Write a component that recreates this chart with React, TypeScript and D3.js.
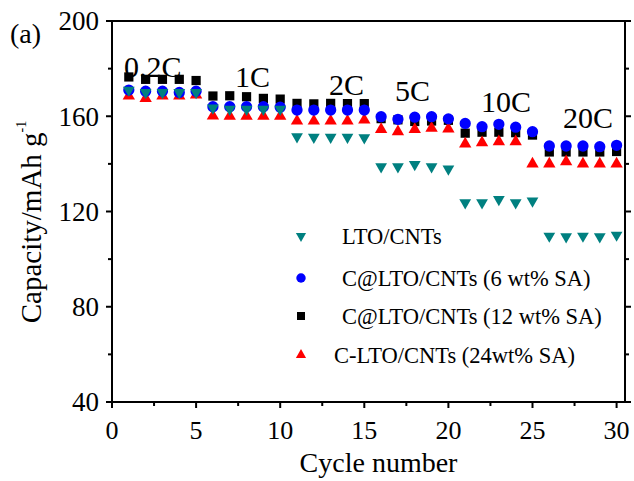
import React from "react";
import * as d3 from "d3";

// cycle numbers on the x axis
const cycles = [1, 2, 3, 4, 5, 6, 7, 8, 9, 10, 11, 12, 13, 14, 15, 16, 17, 18, 19, 20, 21, 22, 23, 24, 25, 26, 27, 28, 29, 30];

// capacities (mAh/g)
const ltoCnts = [171, 170, 170, 170, 170, 163.5, 163, 163, 163, 163, 151.4, 151.2, 151.2, 151.2, 151, 138.8, 138.8, 139.8, 138.8, 137.9, 123.7, 123.7, 125.1, 123.7, 124.4, 109.7, 109.4, 109.7, 109.4, 110.1];
const sa6 = [171, 170.5, 170.5, 170, 170.5, 164, 164, 164, 164, 163.8, 162.6, 162.6, 162.6, 162.6, 162.6, 159.8, 158.7, 159.6, 159.8, 158.9, 157, 155.6, 156.6, 155.4, 153.5, 147.5, 147.5, 147.5, 147.2, 147.8];
const sa12 = [176.5, 175.5, 175.5, 175.5, 175, 168.5, 168.6, 168.2, 167.5, 167.2, 165.4, 165.2, 165.4, 165.3, 165.3, 159, 158.5, 157.8, 158, 158.3, 152.9, 153.3, 153.3, 153.1, 152.1, 145, 145, 145, 145, 145.2];
const sa24 = [168.5, 167.5, 168.5, 168.5, 169, 160.1, 160, 160, 160, 160, 158, 158, 158, 158, 158.4, 154.5, 153.5, 154.5, 155, 154.7, 148.4, 148.9, 149.3, 149.3, 140, 140, 140.9, 140, 140, 140];

const xTicks = [0, 5, 10, 15, 20, 25, 30];
const xMinor = [2.5, 7.5, 12.5, 17.5, 22.5, 27.5];
const yTicks = [40, 80, 120, 160, 200];
const yMinor = [60, 100, 140, 180];

const rateLabels = ["0.2C", "1C", "2C", "5C", "10C", "20C"];
const rateX = [124, 235, 329, 395, 481, 563];
const rateY = [77, 87, 95, 101, 112, 128];

const legendNames = ["LTO/CNTs", "C@LTO/CNTs (6 wt% SA)", "C@LTO/CNTs (12 wt% SA)", "C-LTO/CNTs (24wt% SA)"];

const font = "'Liberation Serif', 'Times New Roman', serif";

export default function App() {
  const width = 634;
  const height = 481;
  const left = 112, right = 625, top = 21, bottom = 402;

  const x = d3.scaleLinear().domain([0, 30.5]).range([left, right]);
  const y = d3.scaleLinear().domain([40, 200]).range([bottom, top]);

  const series = [
    { data: sa12, shape: d3.symbolSquare, size: 85, color: "#000000", rot: 0, legendSize: 64 },
    { data: sa24, shape: d3.symbolTriangle, size: 66, color: "#ff0000", rot: 0, legendSize: 45 },
    { data: sa6, shape: d3.symbolCircle, size: 100, color: "#0000ff", rot: 0, legendSize: 70 },
    { data: ltoCnts, shape: d3.symbolTriangle, size: 60, color: "#008080", rot: 180, legendSize: 45 },
  ];

  // legend order: LTO, 6, 12, 24
  const legendSeries = [series[3], series[2], series[0], series[1]];
  const legendY = [236, 278, 316, 355];
  const legendTextX = [342, 342, 342, 334];

  return (
    <svg width={width} height={height} style={{ position: "absolute", left: 0, top: 0, background: "#fff" }} fontFamily={font}>
      {/* frame */}
      <rect x={left} y={top} width={right - left} height={bottom - top} fill="none" stroke="#000" strokeWidth={2} />

      {/* x ticks */}
      {xTicks.map(t => (
        <g key={"xt" + t}>
          <line x1={x(t)} x2={x(t)} y1={bottom} y2={bottom + 6} stroke="#000" strokeWidth={2} />
          <text x={x(t)} y={439} fontSize={26} textAnchor="middle">{t}</text>
        </g>
      ))}
      {xMinor.map(t => (
        <line key={"xm" + t} x1={x(t)} x2={x(t)} y1={bottom} y2={bottom + 4} stroke="#000" strokeWidth={2} />
      ))}

      {/* y ticks left + right */}
      {yTicks.map(t => (
        <g key={"yt" + t}>
          <line x1={left - 6} x2={left} y1={y(t)} y2={y(t)} stroke="#000" strokeWidth={2} />
          <line x1={right} x2={right + 6} y1={y(t)} y2={y(t)} stroke="#000" strokeWidth={2} />
          <text x={99} y={y(t)} dy="0.35em" fontSize={27} textAnchor="end">{t}</text>
        </g>
      ))}
      {yMinor.map(t => (
        <g key={"ym" + t}>
          <line x1={left - 4} x2={left} y1={y(t)} y2={y(t)} stroke="#000" strokeWidth={2} />
          <line x1={right} x2={right + 4} y1={y(t)} y2={y(t)} stroke="#000" strokeWidth={2} />
        </g>
      ))}

      {/* axis titles */}
      <text x={(left + right) / 2 + 10} y={472} fontSize={28} textAnchor="middle">Cycle number</text>
      <text transform="translate(41,222) rotate(-90)" fontSize={29} textAnchor="middle">
        Capacity/mAh g<tspan fontSize={14} dy={-15}>-1</tspan>
      </text>
      <text x={10} y={43} fontSize={28}>(a)</text>

      {/* points */}
      {series.map((s, i) => (
        <g key={"s" + i}>
          {s.data.map((v, j) => (
            <path
              key={j}
              d={d3.symbol().type(s.shape).size(s.size)() as string}
              transform={`translate(${x(cycles[j])},${y(v)}) rotate(${s.rot})`}
              fill={s.color}
            />
          ))}
        </g>
      ))}

      {/* rate labels */}
      {rateLabels.map((r, i) => (
        <text key={r} x={rateX[i]} y={rateY[i]} fontSize={30}>{r}</text>
      ))}

      {/* legend */}
      {legendSeries.map((s, i) => (
        <g key={"lg" + i}>
          <path
            d={d3.symbol().type(s.shape).size(s.legendSize)() as string}
            transform={`translate(301,${legendY[i]}) rotate(${s.rot})`}
            fill={s.color}
          />
          <text x={legendTextX[i]} y={legendY[i] + 8} fontSize={22.5}>{legendNames[i]}</text>
        </g>
      ))}
    </svg>
  );
}
